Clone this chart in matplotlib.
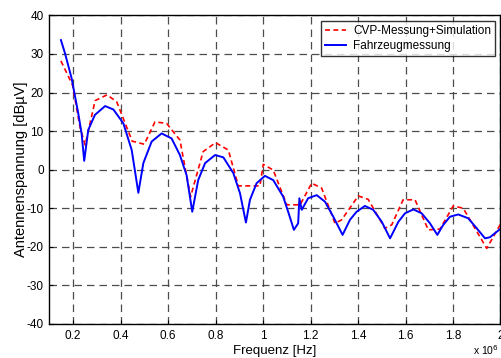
import numpy as np
import matplotlib
matplotlib.use('Agg')
import matplotlib.pyplot as plt
from matplotlib.ticker import FuncFormatter

plt.rcParams['font.family'] = ['Liberation Sans', 'DejaVu Sans']
plt.rcParams['axes.unicode_minus'] = False

# CVP measurement + simulation (frequency in MHz, level in dBuV)
cvp_f = [0.149, 0.198, 0.229, 0.251, 0.293, 0.343, 0.384, 0.449, 0.500, 0.545,
         0.594, 0.650, 0.695, 0.748, 0.800, 0.854, 0.896, 0.987, 1.001, 1.043,
         1.100, 1.156, 1.205, 1.247, 1.303, 1.331, 1.401, 1.443, 1.513, 1.542,
         1.590, 1.640, 1.696, 1.745, 1.801, 1.843, 1.942, 2.000]
cvp_v = [28.2, 21.9, 11.1, 6.4, 17.9, 19.4, 17.6, 7.4, 6.6, 12.4,
         12.0, 7.7, -7.0, 4.7, 7.0, 5.1, -4.2, -4.2, 1.4, -0.1,
         -9.1, -9.1, -3.5, -4.8, -13.9, -13.0, -6.8, -7.7, -15.2, -14.3,
         -7.8, -7.8, -15.6, -15.4, -9.4, -10.0, -20.4, -14.1]

# vehicle measurement
car_f = [0.149, 0.166, 0.194, 0.222, 0.236, 0.247, 0.264, 0.292, 0.335, 0.370,
         0.412, 0.447, 0.475, 0.496, 0.531, 0.573, 0.615, 0.650, 0.678, 0.702,
         0.727, 0.756, 0.798, 0.833, 0.875, 0.903, 0.928, 0.945, 0.973, 1.008,
         1.043, 1.085, 1.110, 1.130, 1.148, 1.153, 1.163, 1.190, 1.226, 1.261,
         1.296, 1.335, 1.366, 1.394, 1.429, 1.464, 1.500, 1.535, 1.570, 1.598,
         1.633, 1.668, 1.703, 1.734, 1.759, 1.787, 1.822, 1.864, 1.900, 1.935,
         1.956, 1.998]
car_v = [33.6, 30.2, 23.7, 14.6, 9.4, 2.3, 10.3, 14.2, 16.5, 15.6,
         12.0, 5.1, -6.0, 1.7, 7.3, 9.4, 8.1, 3.8, -1.4, -10.9,
         -2.7, 1.7, 3.8, 3.2, -0.9, -6.1, -13.7, -7.8, -3.5, -1.6,
         -2.7, -7.0, -11.7, -15.6, -13.9, -7.4, -10.4, -7.4, -6.6, -8.3,
         -12.2, -16.9, -13.0, -10.9, -9.4, -10.4, -13.5, -17.8, -13.5, -11.3,
         -10.3, -11.3, -13.9, -16.9, -14.3, -12.2, -11.6, -12.6, -15.2, -17.8,
         -17.5, -15.4]

x_ticks = [0.2, 0.4, 0.6, 0.8, 1.0, 1.2, 1.4, 1.6, 1.8, 2.0]
y_ticks = [-40, -30, -20, -10, 0, 10, 20, 30, 40]

fig = plt.figure(figsize=(5.01, 3.58), dpi=100)
ax = fig.add_axes([0.0984, 0.095, 0.9006, 0.862])

ax.plot(np.array(cvp_f) * 1e6, cvp_v, color='red', ls=(0, (3, 2)), lw=1.2,
        label='CVP-Messung+Simulation')
ax.plot(np.array(car_f) * 1e6, car_v, color='blue', lw=1.4, label='Fahrzeugmessung')

ax.set_xlim(0.1e6, 2.0e6)
ax.set_ylim(-40, 40)
ax.set_xticks(np.array(x_ticks) * 1e6)
ax.set_yticks(y_ticks)
ax.xaxis.set_major_formatter(FuncFormatter(lambda v, p: ('%g' % (v / 1e6))))
ax.tick_params(direction='in', length=3, labelsize=8.5, width=0.8, pad=4)
ax.grid(True, ls=(0, (6, 4)), color='0.3', lw=0.9)
for s in ax.spines.values():
    s.set_linewidth(1.0)

ax.set_xlabel('Frequenz [Hz]', fontsize=9.5, labelpad=2.5)
ax.set_ylabel('Antennenspannung [dBµV]', fontsize=10.5, labelpad=-1)
fig.text(0.944, 0.004, r'x 10$^{6}$', fontsize=7.5, ha='left', va='bottom')

leg = ax.legend(loc='upper right', fontsize=8.5, frameon=True, fancybox=False,
                borderaxespad=0.45, handlelength=1.8, handletextpad=0.6,
                labelspacing=0.25, borderpad=0.35)
leg.get_frame().set_edgecolor('black')
leg.get_frame().set_linewidth(1.0)

fig.savefig('out.png', dpi=100)
